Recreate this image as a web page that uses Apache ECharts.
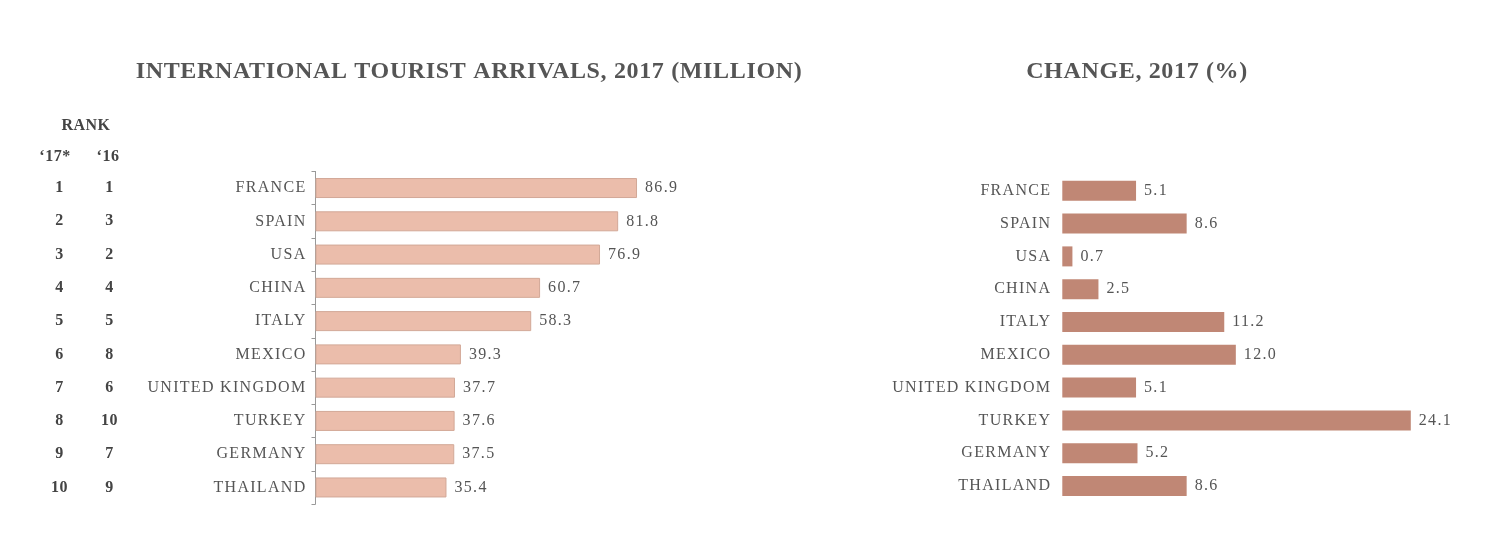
<!DOCTYPE html>
<html>
<head>
<meta charset="utf-8">
<script src="https://cdn.jsdelivr.net/npm/echarts@6/dist/echarts.min.js"></script>
<style>
html,body{margin:0;padding:0;background:#fff;}
#chart{width:1495px;height:539px;}
</style>
</head>
<body>
<div id="chart"></div>
<script>
// ---- data ----
const countries = ['FRANCE','SPAIN','USA','CHINA','ITALY','MEXICO','UNITED KINGDOM','TURKEY','GERMANY','THAILAND'];
const rank2017 = ['1','2','3','4','5','6','7','8','9','10'];
const rank2016 = ['1','3','2','4','5','8','6','10','7','9'];
const arrivals2017 = [86.9, 81.8, 76.9, 60.7, 58.3, 39.3, 37.7, 37.6, 37.5, 35.4];
const change2017 = [5.1, 8.6, 0.7, 2.5, 11.2, 12.0, 5.1, 24.1, 5.2, 8.6];
const titleLeft = 'INTERNATIONAL TOURIST ARRIVALS, 2017 (MILLION)';
const titleRight = 'CHANGE, 2017 (%)';
const rankHeader = 'RANK';
const rankHeader17 = '‘17*';
const rankHeader16 = '‘16';

// letter spacing for canvas text
(function(){
  const p = CanvasRenderingContext2D.prototype;
  const f = p.fillText;
  p.fillText = function(t,x,y,m){
    try {
      const fnt = this.font;
      this.letterSpacing = /bold/.test(fnt) ? (/24px/.test(fnt) ? '0.65px' : '0.5px') : '1.3px';
    } catch(e){}
    return m === undefined ? f.call(this,t,x,y) : f.call(this,t,x,y,m);
  };
})();

const SERIF = '"Liberation Serif", "DejaVu Serif", serif';
const chart = echarts.init(document.getElementById('chart'));

const catLabel = {color:'#555', fontFamily:SERIF, fontSize:16};
const valLabel = {show:true, position:'right', distance:8, color:'#555', fontFamily:SERIF, fontSize:16,
  formatter: p => p.value.toFixed(1)};
const rankLabel = {margin:10, align:'center', color:'#444', fontFamily:SERIF, fontWeight:'bold', fontSize:16};
const headStyle = {fontFamily:SERIF, fontWeight:'bold', fontSize:16, color:'#444'};

chart.setOption({
  backgroundColor:'#fff',
  animation:false,
  title:[
    {text:titleLeft, left:464, top:55, textAlign:'center',
      textStyle:{fontFamily:SERIF, fontWeight:'bold', fontSize:24, color:'#555'}},
    {text:titleRight, left:1132, top:55, textAlign:'center',
      textStyle:{fontFamily:SERIF, fontWeight:'bold', fontSize:24, color:'#555'}},
    {text:rankHeader, left:81, top:113, textAlign:'center', textStyle:headStyle},
    {text:rankHeader17, left:50, top:144, textAlign:'center', textStyle:headStyle},
    {text:rankHeader16, left:103, top:144, textAlign:'center', textStyle:headStyle}
  ],
  grid:[
    {left:315.5, right:809.5, top:171.4, bottom:34.9},
    {left:1062.3, right:27.8, top:174.4, bottom:36.6}
  ],
  xAxis:[
    {gridIndex:0, type:'value', min:0, max:100, show:false},
    {gridIndex:1, type:'value', min:0, max:28, show:false}
  ],
  yAxis:[
    {gridIndex:0, type:'category', position:'left', data:countries, inverse:true,
      axisLine:{show:true, lineStyle:{color:'#999', width:1}},
      axisTick:{show:true, length:4, lineStyle:{color:'#999'}},
      axisLabel:Object.assign({margin:9}, catLabel)},
    {gridIndex:0, type:'category', position:'left', data:rank2017, inverse:true, offset:246,
      axisLine:{show:false}, axisTick:{show:false}, axisLabel:rankLabel},
    {gridIndex:0, type:'category', position:'left', data:rank2016, inverse:true, offset:196,
      axisLine:{show:false}, axisTick:{show:false}, axisLabel:rankLabel},
    {gridIndex:1, type:'category', position:'left', data:countries, inverse:true,
      axisLine:{show:false}, axisTick:{show:false},
      axisLabel:Object.assign({margin:11}, catLabel)}
  ],
  series:[
    {type:'bar', xAxisIndex:0, yAxisIndex:0, data:arrivals2017, barWidth:20,
      itemStyle:{color:'#ebbdab', borderColor:'#d2a897', borderWidth:1},
      label:valLabel},
    {type:'bar', xAxisIndex:1, yAxisIndex:3, data:change2017, barWidth:20,
      itemStyle:{color:'#c08775'},
      label:valLabel}
  ]
});
</script>
</body>
</html>
